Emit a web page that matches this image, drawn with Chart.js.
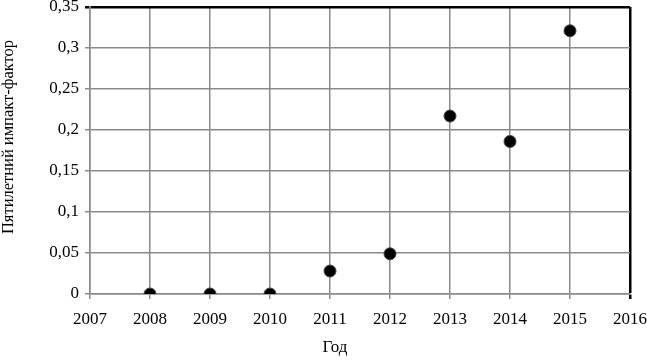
<!DOCTYPE html>
<html>
<head>
<meta charset="utf-8">
<script src="https://cdn.jsdelivr.net/npm/chart.js@4"></script>
<style>
  html, body { margin: 0; padding: 0; background: #fff; }
  #wrap { width: 647px; height: 362px; }
</style>
</head>
<body>
<div id="wrap"><canvas id="chart"></canvas></div>
<script>
// data
const years = [2008, 2009, 2010, 2011, 2012, 2013, 2014, 2015];
const impact5 = [0, 0, 0, 0.028, 0.049, 0.217, 0.186, 0.321];

const xMin = 2007, xMax = 2016;
const yMin = 0, yMax = 0.35, yStep = 0.05;

const xTitle = 'Год';
const yTitle = 'Пятилетний импакт-фактор';

const FONT = "'Liberation Serif', 'Times New Roman', serif";
const GRID = '#8a8a8a';

const points = years.map((y, i) => ({ x: y, y: impact5[i] }));

// axis titles, placed like in the original (not centred on the plot)
const axisTitles = {
  id: 'axisTitles',
  afterDraw(chart) {
    const c = chart.ctx;
    c.save();
    c.fillStyle = '#000';
    c.textAlign = 'center';
    c.textBaseline = 'middle';
    c.font = '16.5px ' + FONT;
    c.translate(9, 137);
    c.rotate(-Math.PI / 2);
    c.fillText(yTitle, 0, 0);
    c.restore();

    c.save();
    c.fillStyle = '#000';
    c.textAlign = 'center';
    c.textBaseline = 'middle';
    c.font = '17px ' + FONT;
    c.fillText(xTitle, 335, 348);
    c.restore();
  }
};

const ctx = document.getElementById('chart').getContext('2d');
const chart = new Chart(ctx, {
  type: 'scatter',
  data: {
    datasets: [{
      data: points,
      backgroundColor: '#000',
      borderColor: '#444',
      borderWidth: 1,
      pointRadius: 6,
      pointHoverRadius: 6
    }]
  },
  options: {
    responsive: true,
    maintainAspectRatio: false,
    animation: false,
    layout: { padding: { top: 4, right: 17, left: 0, bottom: 0 } },
    plugins: { legend: { display: false }, tooltip: { enabled: false } },
    scales: {
      x: {
        type: 'linear',
        min: xMin, max: xMax,
        ticks: {
          stepSize: 1,
          color: '#000',
          font: { family: FONT, size: 17 },
          padding: 10,
          maxRotation: 0,
          callback: v => String(v)
        },
        grid: {
          color: c => (c.tick && c.tick.value === xMax) ? '#000' : GRID,
          lineWidth: c => (c.tick && c.tick.value === xMax) ? 2.5 : 1.5,
          tickLength: 5
        },
        border: { color: GRID, width: 1.5 },
        afterFit: s => { s.height = 68; s.paddingLeft = 0; s.paddingRight = 0; }
      },
      y: {
        min: yMin, max: yMax,
        ticks: {
          stepSize: yStep,
          color: '#000',
          font: { family: FONT, size: 17 },
          padding: 6,
          callback: v => String(Math.round(v * 100) / 100).replace('.', ',')
        },
        grid: {
          color: c => (c.tick && Math.abs(c.tick.value - yMax) < 1e-9) ? '#000' : GRID,
          lineWidth: c => (c.tick && Math.abs(c.tick.value - yMax) < 1e-9) ? 2.5 : 1.5,
          tickLength: 5
        },
        border: { color: GRID, width: 1.5 },
        afterFit: s => { s.width = 90; s.paddingTop = 0; s.paddingBottom = 0; }
      }
    }
  },
  plugins: [axisTitles]
});
</script>
</body>
</html>
